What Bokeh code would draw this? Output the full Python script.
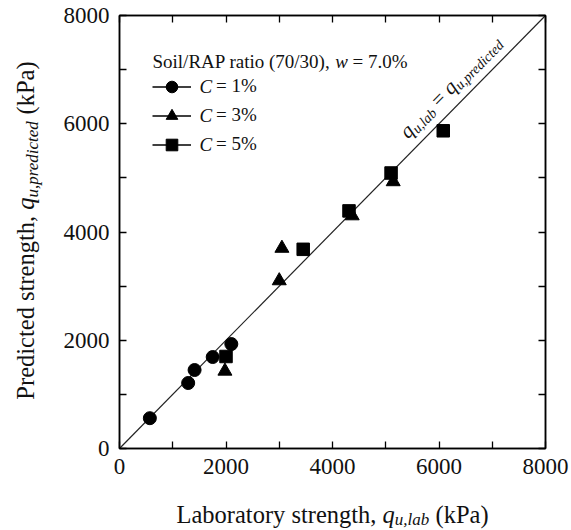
import math

from bokeh.embed import file_html
from bokeh.layouts import column, row
from bokeh.models import (ColumnDataSource, FixedTicker, Label, Legend,
                          LegendItem, LinearAxis)
from bokeh.plotting import figure
from bokeh.resources import INLINE

# ---- data (kPa) ----
lab_c1 = [570, 1290, 1410, 1750, 2100]
pred_c1 = [560, 1210, 1450, 1690, 1930]
lab_c3 = [1980, 3000, 3050, 4370, 5140]
pred_c3 = [1430, 3100, 3700, 4300, 4930]
lab_c5 = [2000, 3450, 4310, 5100, 6080]
pred_c5 = [1700, 3680, 4390, 5090, 5870]
cement_levels = ["1%", "3%", "5%"]
major_ticks = [0, 2000, 4000, 6000, 8000]
minor_ticks = [1000, 3000, 5000, 7000]
axis_limits = (0, 8000)
equality_line = [0, 8000]

# ---- page layout: y-title strip | (main plot over x-title strip) ----
W, H = 571, 530
YSTRIP_W = 45
XSTRIP_H = 43
PLOT_W, PLOT_H = W - YSTRIP_W, H - XSTRIP_H
B_LEFT, B_RIGHT, B_TOP, B_BOTTOM = 74, 26, 15, 39
FRAME_W = PLOT_W - B_LEFT - B_RIGHT
FRAME_H = PLOT_H - B_TOP - B_BOTTOM
FRAME_LEFT_PX = YSTRIP_W + B_LEFT          # frame position on the page
FRAME_BOTTOM_PX = B_TOP + FRAME_H
SERIF = "Liberation Serif"
INK = "#111111"
BASELINE_FIX = 0.24   # em offset between the anchor and the drawn alphabetic baseline

# Times-compatible advance widths (per 1000 em) used to lay out mixed-style text
REG = {" ": 250, "(": 333, ")": 333, "%": 833, ",": 250, ".": 250, "/": 278,
       "=": 564, "A": 722, "C": 667, "L": 611, "P": 556, "R": 667, "S": 556,
       "a": 444, "b": 500, "c": 444, "d": 500, "e": 444, "g": 500, "h": 500,
       "i": 278, "k": 500, "l": 278, "n": 500, "o": 500, "p": 500, "r": 333,
       "s": 389, "t": 278, "u": 500, "w": 722, "y": 500, "q": 500}
ITA = {" ": 250, ",": 250, "a": 500, "b": 500, "c": 444, "d": 500, "e": 444,
       "i": 278, "l": 278, "p": 500, "q": 500, "r": 389, "t": 278, "u": 500,
       "w": 667, "C": 667}


def text_width(s, italic, size):
    table = ITA if italic else REG
    return sum(table.get(ch, 500) for ch in s) * size / 1000.0


def draw_run(fig, origin, segments, x0, y0, angle_deg=0.0, align="left",
             baseline="alphabetic"):
    """Lay out (text, italic, size, drop) segments along a baseline.

    x0, y0 are page pixels (top-left origin); origin is the page position of
    the figure frame's bottom-left corner.
    """
    ox, oy = origin
    th = math.radians(angle_deg)
    ax, ay = math.cos(th), -math.sin(th)      # advance direction
    nx, ny = math.sin(th), math.cos(th)       # downward (subscript) direction
    total = sum(text_width(t, it, sz) for t, it, sz, _ in segments)
    if align == "center":
        x0 -= ax * total / 2
        y0 -= ay * total / 2
    pos = 0.0
    for t, it, sz, drop in segments:
        lead = len(t) - len(t.lstrip(" "))
        shift = text_width(t[:lead], it, sz)
        off = drop - (BASELINE_FIX * sz if baseline == "alphabetic" else 0)
        px = x0 + ax * (pos + shift) + nx * off
        py = y0 + ay * (pos + shift) + ny * off
        fig.add_layout(Label(
            x=px - ox, y=oy - py, x_units="screen", y_units="screen",
            text=t.strip(" "), angle=th, text_font=SERIF,
            text_font_style="italic" if it else "normal",
            text_font_size=f"{sz}px", text_baseline=baseline, text_align="left",
            text_color=INK))
        pos += text_width(t, it, sz)


def text_strip(width, height, **borders):
    f = figure(width=width, height=height, output_backend="svg", title=None,
               toolbar_location=None, x_axis_type=None, y_axis_type=None,
               x_range=(0, 1), y_range=(0, 1), **borders)
    f.outline_line_color = None
    f.xgrid.visible = False
    f.ygrid.visible = False
    return f


p = figure(width=PLOT_W, height=PLOT_H, x_range=axis_limits, y_range=axis_limits,
           output_backend="svg", toolbar_location=None,
           min_border_left=B_LEFT, min_border_right=B_RIGHT,
           min_border_top=B_TOP, min_border_bottom=B_BOTTOM,
           x_axis_type=None, y_axis_type=None)
p.xgrid.visible = False
p.ygrid.visible = False
p.outline_line_color = "black"
p.outline_line_width = 1.5


def style_axis(ax, labelled):
    ax.axis_line_width = 1.5
    ax.axis_line_color = "black"
    ax.major_tick_in = 7
    ax.major_tick_out = 0
    ax.minor_tick_in = 7
    ax.minor_tick_out = 0
    ax.major_tick_line_width = 1.3
    ax.minor_tick_line_width = 1.3
    ax.major_tick_line_color = "black"
    ax.minor_tick_line_color = "black"
    ax.axis_label = None
    if labelled:
        ax.major_label_text_font = SERIF
        ax.major_label_text_font_size = "23px"
        ax.major_label_text_color = INK


bottom = LinearAxis(ticker=FixedTicker(ticks=major_ticks, minor_ticks=minor_ticks))
left = LinearAxis(ticker=FixedTicker(ticks=major_ticks, minor_ticks=minor_ticks))
top = LinearAxis(ticker=FixedTicker(ticks=[], minor_ticks=major_ticks + minor_ticks))
right = LinearAxis(ticker=FixedTicker(ticks=[], minor_ticks=major_ticks + minor_ticks))
for a, lab in ((bottom, True), (left, True), (top, False), (right, False)):
    style_axis(a, lab)
bottom.major_label_standoff = 10
left.major_label_standoff = 10
p.add_layout(bottom, "below")
p.add_layout(left, "left")
p.add_layout(top, "above")
p.add_layout(right, "right")

# 1:1 line
p.line(equality_line, equality_line, line_color="#222222", line_width=1.2)

# data series
r1 = p.scatter(lab_c1, pred_c1, marker="circle", size=13, fill_color="black", line_color="black")
r3 = p.scatter(lab_c3, pred_c3, marker="triangle", size=14, fill_color="black", line_color="black")
r5 = p.scatter(lab_c5, pred_c5, marker="square", size=12.5, fill_color="black", line_color="black")

# line stubs that only appear in the legend samples
nan = float("nan")
stubs = [p.line("x", "y", source=ColumnDataSource(dict(x=[nan, nan], y=[nan, nan])),
                line_color="black", line_width=1.5) for _ in range(3)]

# legend: labels hold "= n%", the italic C is set alongside
frame_origin = (FRAME_LEFT_PX, FRAME_BOTTOM_PX)
LEG_X, LEG_TOP = 33, 86 - 14.5 - B_TOP
ROW_H, GLYPH_W, FS = 29, 39, 19
c_gap = text_width("C ", True, FS)
items = [LegendItem(label=f"= {c}", renderers=[lr, sr])
         for c, lr, sr in zip(cement_levels, stubs, (r1, r3, r5))]
leg_h = 3 * ROW_H
legend = Legend(items=items, location=(LEG_X, FRAME_H - LEG_TOP - leg_h),
                glyph_width=GLYPH_W, glyph_height=ROW_H, label_height=ROW_H,
                spacing=0, padding=0, margin=0, label_standoff=8 + int(round(c_gap)),
                label_text_font=SERIF, label_text_font_size=f"{FS}px",
                label_text_color=INK,
                background_fill_alpha=0, border_line_alpha=0)
p.add_layout(legend)
for i in range(3):
    cy = B_TOP + LEG_TOP + ROW_H / 2 + i * ROW_H
    draw_run(p, frame_origin, [("C", True, FS, 0)],
             FRAME_LEFT_PX + LEG_X + GLYPH_W + 8, cy, baseline="middle")

# legend heading
draw_run(p, frame_origin, [("Soil/RAP ratio (70/30), ", False, FS, 0), ("w", True, FS, 0),
                           (" = 7.0%", False, FS, 0)], 152, 66)

# label along the 1:1 line
ang = math.degrees(math.atan2(FRAME_H, FRAME_W))
along = 0.807 * math.hypot(FRAME_W, FRAME_H)
th = math.radians(ang)
cx = FRAME_LEFT_PX + along * math.cos(th) - 13 * math.sin(th)
cy = FRAME_BOTTOM_PX - along * math.sin(th) - 13 * math.cos(th)
draw_run(p, frame_origin, [("q", True, 21, 0), ("u,lab", True, 14, 4), (" = ", False, 21, 0),
                           ("q", True, 21, 0), ("u,predicted", True, 14, 4)],
         cx, cy, angle_deg=ang, align="center")

# axis titles in their own strips (x strip shares the main plot's side borders)
xstrip = text_strip(PLOT_W, XSTRIP_H, min_border_left=B_LEFT, min_border_right=B_RIGHT,
                    min_border_top=0, min_border_bottom=0)
draw_run(xstrip, (FRAME_LEFT_PX, H), [("Laboratory strength, ", False, 24.5, 0), ("q", True, 24.5, 0),
                                      ("u,lab", True, 17, 3), (" (kPa)", False, 24.5, 0)],
         FRAME_LEFT_PX + FRAME_W / 2, 520, align="center")

ystrip = text_strip(YSTRIP_W, H, min_border=0)
draw_run(ystrip, (0, H), [("Predicted strength, ", False, 24.5, 0), ("q", True, 24.5, 0),
                          ("u,predicted", True, 17, 5), (" (kPa)", False, 24.5, 0)],
         31, 230, angle_deg=90, align="center")

page = row(ystrip, column(p, xstrip, spacing=0), spacing=0)
open("out.html", "w").write(file_html(page, INLINE))
